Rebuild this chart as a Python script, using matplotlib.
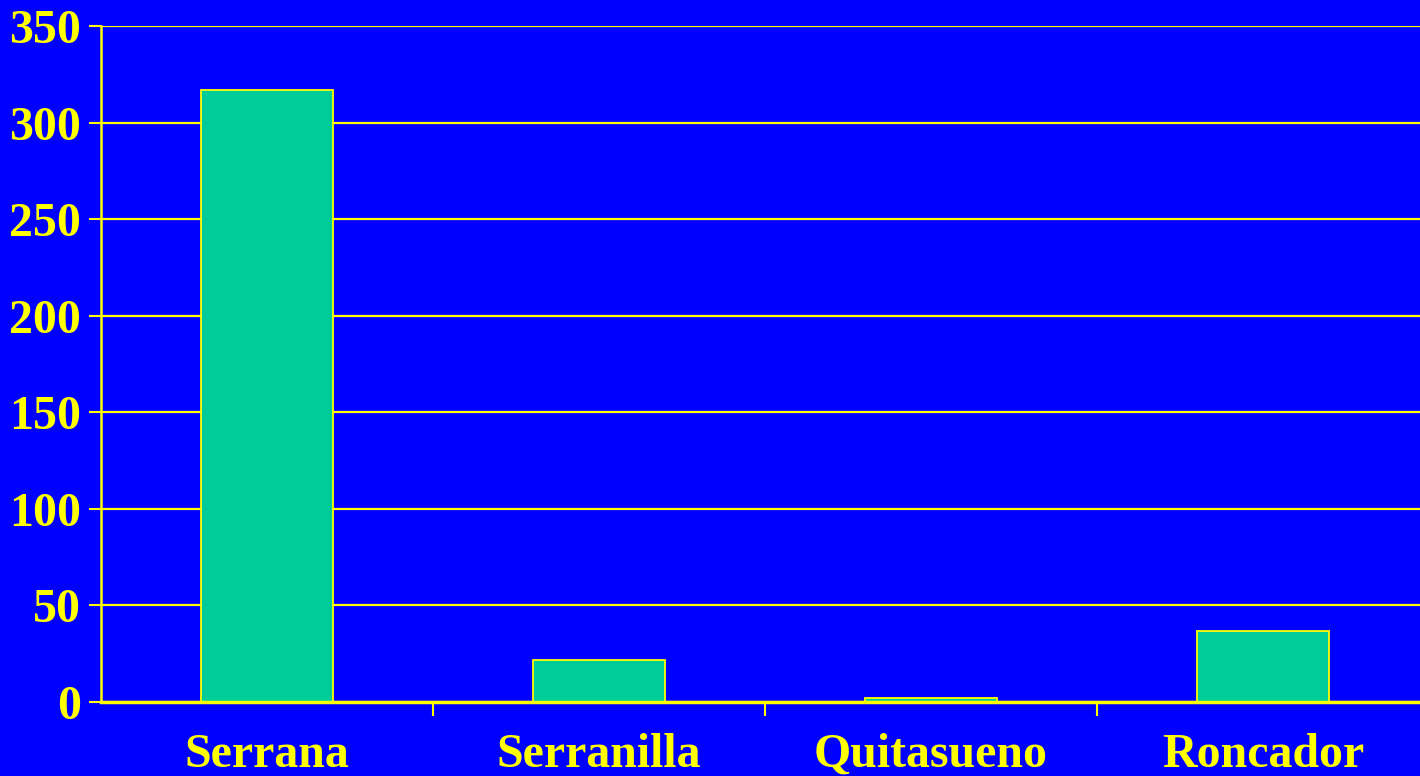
import matplotlib
matplotlib.use("Agg")
import matplotlib.pyplot as plt

categories = ["Serrana", "Serranilla", "Quitasueno", "Roncador"]
values = [317, 22, 2, 37]
yticks = [0, 50, 100, 150, 200, 250, 300, 350]

BLUE = "#0000FF"
YELLOW = "#FFFF00"
TEAL = "#00CC99"

fig = plt.figure(figsize=(14.2, 7.76), dpi=100)
fig.patch.set_facecolor(BLUE)
W, H = 1420, 776
ax = fig.add_axes([101 / W, (H - 702) / H, 1328 / W, (702 - 26) / H])
ax.set_facecolor(BLUE)

x = list(range(len(categories)))
ax.bar(x, values, width=0.4, color=TEAL, edgecolor=YELLOW, linewidth=1.3, zorder=3)

ax.set_xlim(-0.5, len(categories) - 0.5)
ax.set_ylim(0, 350)
ax.set_yticks(yticks)
ax.set_yticklabels([str(t) for t in yticks])
ax.yaxis.grid(True, color=YELLOW, linewidth=1.6, zorder=1)
ax.set_axisbelow(True)

ax.set_xticks(x)
ax.set_xticklabels(categories)
ax.set_xticks([i + 0.5 for i in range(len(categories))], minor=True)
ax.tick_params(axis="x", which="major", length=0, pad=22)
ax.tick_params(axis="x", which="minor", length=10, width=1.5, color=YELLOW)
ax.tick_params(axis="y", length=9, width=1.5, color=YELLOW, pad=5.5)

for lab in ax.get_xticklabels() + ax.get_yticklabels():
    lab.set_fontfamily("Liberation Serif")
    lab.set_fontweight("bold")
    lab.set_fontsize(34.5)
    lab.set_color(YELLOW)

for s in ["top", "right"]:
    ax.spines[s].set_visible(False)
ax.spines["left"].set_color(YELLOW)
ax.spines["left"].set_linewidth(1.8)
ax.spines["bottom"].set_color(YELLOW)
ax.spines["bottom"].set_linewidth(2.5)
ax.spines["bottom"].set_zorder(4)

fig.savefig("out.png", dpi=100, facecolor=BLUE)
